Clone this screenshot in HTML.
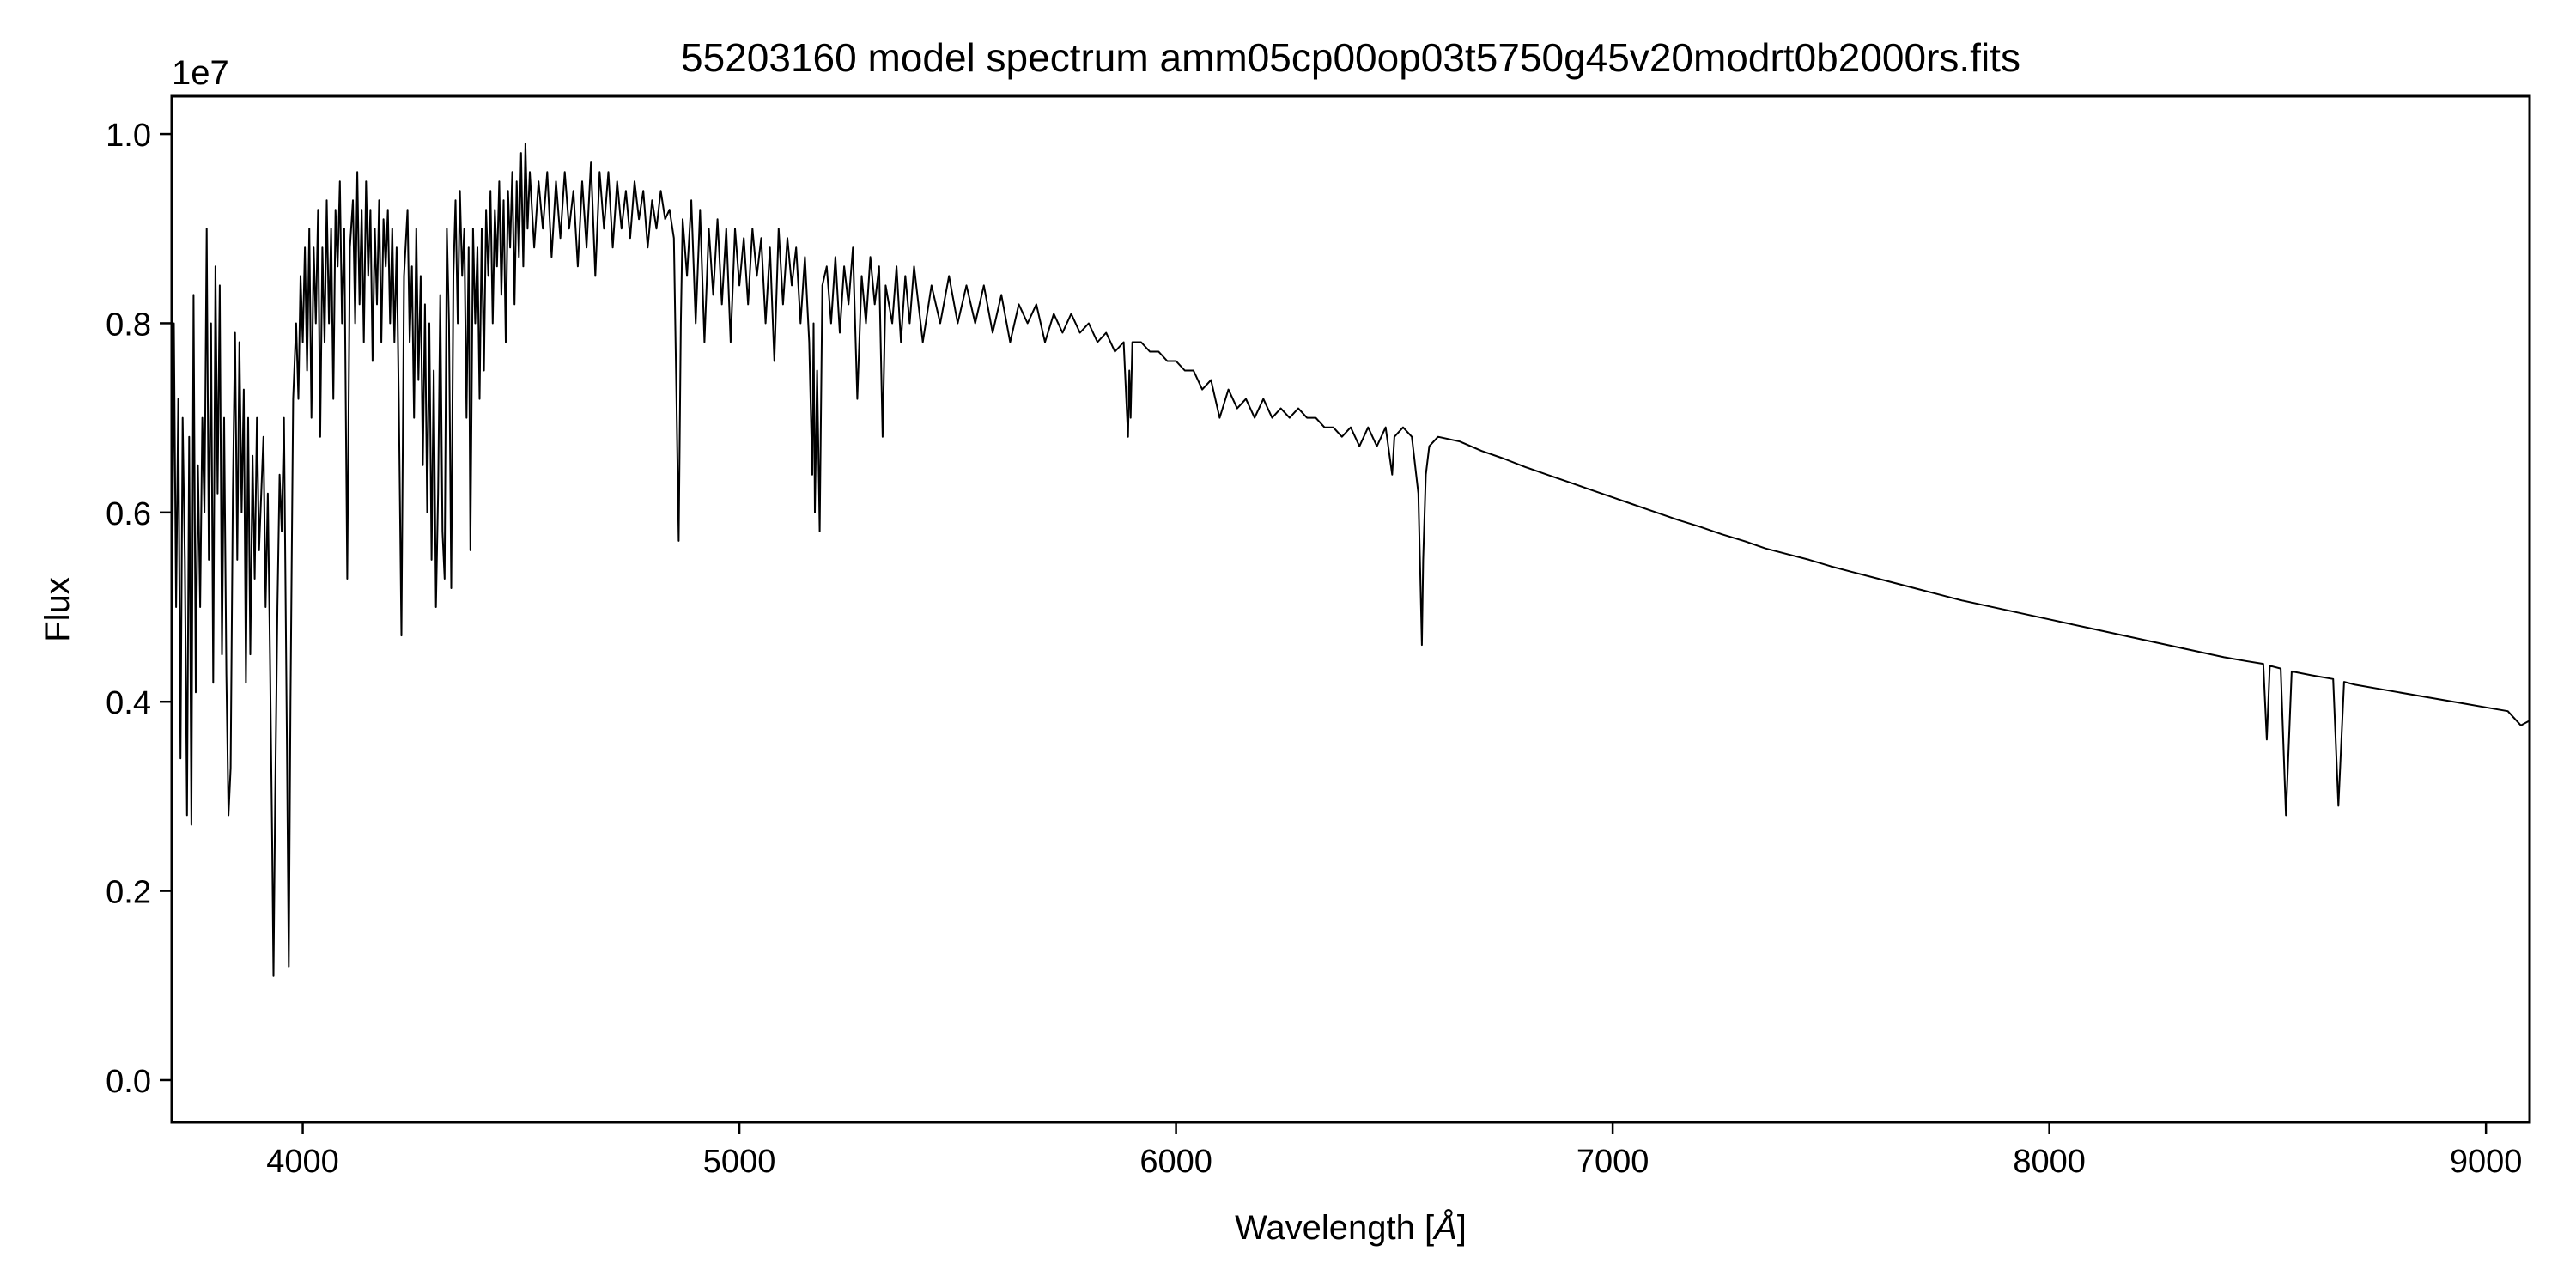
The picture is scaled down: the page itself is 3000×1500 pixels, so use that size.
<!DOCTYPE html>
<html><head><meta charset="utf-8"><style>
html,body{margin:0;padding:0;background:#fff}
svg{display:block}
text{font-family:"Liberation Sans","DejaVu Sans",sans-serif;fill:#000}
</style></head><body>
<svg id="chart" width="3000" height="1500" viewBox="0 0 3000 1500" xmlns="http://www.w3.org/2000/svg">
<rect x="0" y="0" width="3000" height="1500" fill="#fff"/>
<text x="1573" y="83" font-size="46" text-anchor="middle">55203160 model spectrum amm05cp00op03t5750g45v20modrt0b2000rs.fits</text>
<text x="1573" y="1443" font-size="40" text-anchor="middle">Wavelength [<tspan font-style="italic">Å</tspan>]</text>
<text x="80" y="710" font-size="40" text-anchor="middle" transform="rotate(-90 80 710)">Flux</text>
<text x="200" y="98" font-size="40">1e7</text>
<g id="ticks"></g>
<clipPath id="clip"><rect x="200" y="112" width="2746" height="1195"/></clipPath>
<path id="line" clip-path="url(#clip)" fill="none" stroke="#000" stroke-width="2" stroke-linejoin="round"/>
<rect x="200" y="112" width="2746" height="1195" fill="none" stroke="#000" stroke-width="3"/>
</svg>
<script>
const xTicks=[4000,5000,6000,7000,8000,9000];
const yTicks=[0.0,0.2,0.4,0.6,0.8,1.0];
const wavelengths=[3700,3705,3710,3715,3720,3725,3730,3735,3740,3745,3750,3755,3760,3765,3770,3775,3780,3785,3790,3795,3800,3805,3810,3815,3820,3825,3830,3835,3840,3845,3850,3855,3860,3865,3870,3875,3880,3885,3890,3895,3900,3910,3915,3920,3925,3930,3933,3937,3942,3947,3952,3957,3960,3964,3968,3972,3978,3985,3990,3995,4000,4005,4010,4015,4020,4025,4030,4035,4040,4045,4050,4055,4060,4065,4070,4075,4080,4085,4090,4095,4102,4108,4115,4120,4125,4130,4135,4140,4145,4150,4155,4160,4165,4170,4175,4180,4185,4190,4195,4200,4205,4210,4215,4220,4226,4232,4240,4245,4250,4255,4260,4265,4270,4275,4280,4285,4290,4295,4300,4305,4310,4315,4320,4325,4330,4335,4340,4345,4350,4355,4360,4365,4370,4375,4380,4384,4390,4395,4400,4405,4410,4415,4420,4425,4430,4435,4440,4445,4450,4455,4460,4465,4470,4475,4480,4485,4490,4495,4500,4505,4510,4515,4520,4530,4540,4550,4560,4570,4580,4590,4600,4610,4620,4630,4640,4650,4660,4670,4680,4690,4700,4710,4720,4730,4740,4750,4760,4770,4780,4790,4800,4810,4820,4830,4840,4850,4855,4861,4866,4870,4880,4890,4900,4910,4920,4930,4940,4950,4960,4970,4980,4990,5000,5010,5020,5030,5040,5050,5060,5070,5080,5090,5100,5110,5120,5130,5140,5150,5160,5167,5170,5173,5178,5184,5190,5200,5210,5220,5230,5240,5250,5260,5270,5280,5290,5300,5310,5320,5328,5335,5350,5360,5370,5380,5390,5400,5420,5440,5460,5480,5500,5520,5540,5560,5580,5600,5620,5640,5660,5680,5700,5720,5740,5760,5780,5800,5820,5840,5860,5880,5890,5893,5896,5900,5920,5940,5960,5980,6000,6020,6040,6060,6080,6100,6120,6140,6160,6180,6200,6220,6240,6260,6280,6300,6320,6340,6360,6380,6400,6420,6440,6460,6480,6495,6500,6520,6540,6555,6560,6563,6566,6572,6580,
6600,6650,6700,6750,6800,6850,6900,6950,7000,7050,7100,7150,7200,7250,7300,7350,7400,7450,7500,7550,7600,7650,7700,7750,7800,7850,7900,7950,8000,8050,8100,8150,8200,8250,8300,8350,8400,8450,8490,8498,8505,8530,8542,8555,8600,8650,8662,8675,8700,8750,8800,8850,8900,8950,9000,9050,9080,9100];
const fluxes=[0.43,0.80,0.50,0.72,0.34,0.70,0.55,0.28,0.68,0.27,0.83,0.41,0.65,0.50,0.70,0.60,0.90,0.55,0.80,0.42,0.86,0.62,0.84,0.45,0.70,0.43,0.28,0.33,0.62,0.79,0.55,0.78,0.60,0.73,0.42,0.70,0.45,0.66,0.53,0.70,0.56,0.68,0.50,0.62,0.45,0.25,0.11,0.30,0.50,0.64,0.58,0.70,0.55,0.35,0.12,0.40,0.72,0.80,0.72,0.85,0.78,0.88,0.75,0.90,0.70,0.88,0.80,0.92,0.68,0.88,0.78,0.93,0.80,0.90,0.72,0.92,0.86,0.95,0.80,0.90,0.53,0.88,0.93,0.80,0.96,0.82,0.92,0.78,0.95,0.85,0.92,0.76,0.90,0.82,0.93,0.78,0.91,0.86,0.92,0.80,0.90,0.78,0.88,0.72,0.47,0.85,0.92,0.78,0.86,0.70,0.90,0.74,0.85,0.65,0.82,0.60,0.80,0.55,0.75,0.50,0.62,0.83,0.58,0.53,0.90,0.80,0.52,0.85,0.93,0.80,0.94,0.85,0.90,0.70,0.88,0.56,0.90,0.80,0.88,0.72,0.90,0.75,0.92,0.85,0.94,0.80,0.92,0.86,0.95,0.83,0.93,0.78,0.94,0.88,0.96,0.82,0.95,0.87,0.98,0.86,0.99,0.90,0.96,0.88,0.95,0.90,0.96,0.87,0.95,0.89,0.96,0.90,0.94,0.86,0.95,0.88,0.97,0.85,0.96,0.90,0.96,0.88,0.95,0.90,0.94,0.89,0.95,0.91,0.94,0.88,0.93,0.90,0.94,0.91,0.92,0.89,0.75,0.57,0.80,0.91,0.85,0.93,0.80,0.92,0.78,0.90,0.83,0.91,0.82,0.90,0.78,0.90,0.84,0.89,0.82,0.90,0.85,0.89,0.80,0.88,0.76,0.90,0.82,0.89,0.84,0.88,0.80,0.87,0.78,0.64,0.80,0.60,0.75,0.58,0.84,0.86,0.80,0.87,0.79,0.86,0.82,0.88,0.72,0.85,0.80,0.87,0.82,0.86,0.68,0.84,0.80,0.86,0.78,0.85,0.80,0.86,0.78,0.84,0.80,0.85,0.80,0.84,0.80,0.84,0.79,0.83,0.78,0.82,0.80,0.82,0.78,0.81,0.79,0.81,0.79,0.80,0.78,0.79,0.77,0.78,0.68,0.75,0.70,0.78,0.78,0.77,0.77,0.76,0.76,0.75,0.75,0.73,0.74,0.70,0.73,0.71,0.72,0.70,0.72,0.70,0.71,0.70,0.71,0.70,0.70,0.69,0.69,0.68,0.69,0.67,0.69,0.67,0.69,0.64,0.68,0.69,0.68,0.62,0.52,0.46,0.55,0.64,0.67,
0.68,0.675,0.665,0.657,0.648,0.64,0.632,0.624,0.616,0.608,0.60,0.592,0.585,0.577,0.57,0.562,0.556,0.55,0.543,0.537,0.531,0.525,0.519,0.513,0.507,0.502,0.497,0.492,0.487,0.482,0.477,0.472,0.467,0.462,0.457,0.452,0.447,0.443,0.44,0.36,0.438,0.435,0.28,0.432,0.428,0.424,0.29,0.421,0.418,0.414,0.41,0.406,0.402,0.398,0.394,0.39,0.375,0.38];
const X0=200,X1=2946,Y0=1307,Y1=112,XMIN=3700,XMAX=9100,YMIN=-0.0445,YMAX=1.040;
function xs(v){return X0+(v-XMIN)/(XMAX-XMIN)*(X1-X0);}
function ys(v){return Y0-(v-YMIN)/(YMAX-YMIN)*(Y0-Y1);}
const NS='http://www.w3.org/2000/svg';
const g=document.getElementById('ticks');
xTicks.forEach(t=>{
  const l=document.createElementNS(NS,'line');
  l.setAttribute('x1',xs(t));l.setAttribute('x2',xs(t));l.setAttribute('y1',Y0);l.setAttribute('y2',Y0+14);
  l.setAttribute('stroke','#000');l.setAttribute('stroke-width','2.5');
  
  
  g.appendChild(l);
  const tx=document.createElementNS(NS,'text');
  tx.setAttribute('x',xs(t));tx.setAttribute('y',Y0+58);tx.setAttribute('font-size','38');tx.setAttribute('text-anchor','middle');
  tx.textContent=t;
  
  
  g.appendChild(tx);
});
yTicks.forEach(t=>{
  const l=document.createElementNS(NS,'line');
  l.setAttribute('x1',X0-14);l.setAttribute('x2',X0);l.setAttribute('y1',ys(t));l.setAttribute('y2',ys(t));
  l.setAttribute('stroke','#000');l.setAttribute('stroke-width','2.5');
  
  
  g.appendChild(l);
  const tx=document.createElementNS(NS,'text');
  tx.setAttribute('x',X0-24);tx.setAttribute('y',ys(t)+14);tx.setAttribute('font-size','38');tx.setAttribute('text-anchor','end');
  tx.textContent=t.toFixed(1);
  
  
  g.appendChild(tx);
});
let d='';
const n=Math.min(wavelengths.length,fluxes.length);
for(let i=0;i<n;i++){d+=(i?'L':'M')+xs(wavelengths[i]).toFixed(1)+' '+ys(fluxes[i]).toFixed(1);}
document.getElementById('line').setAttribute('d',d);
</script>
</body></html>
